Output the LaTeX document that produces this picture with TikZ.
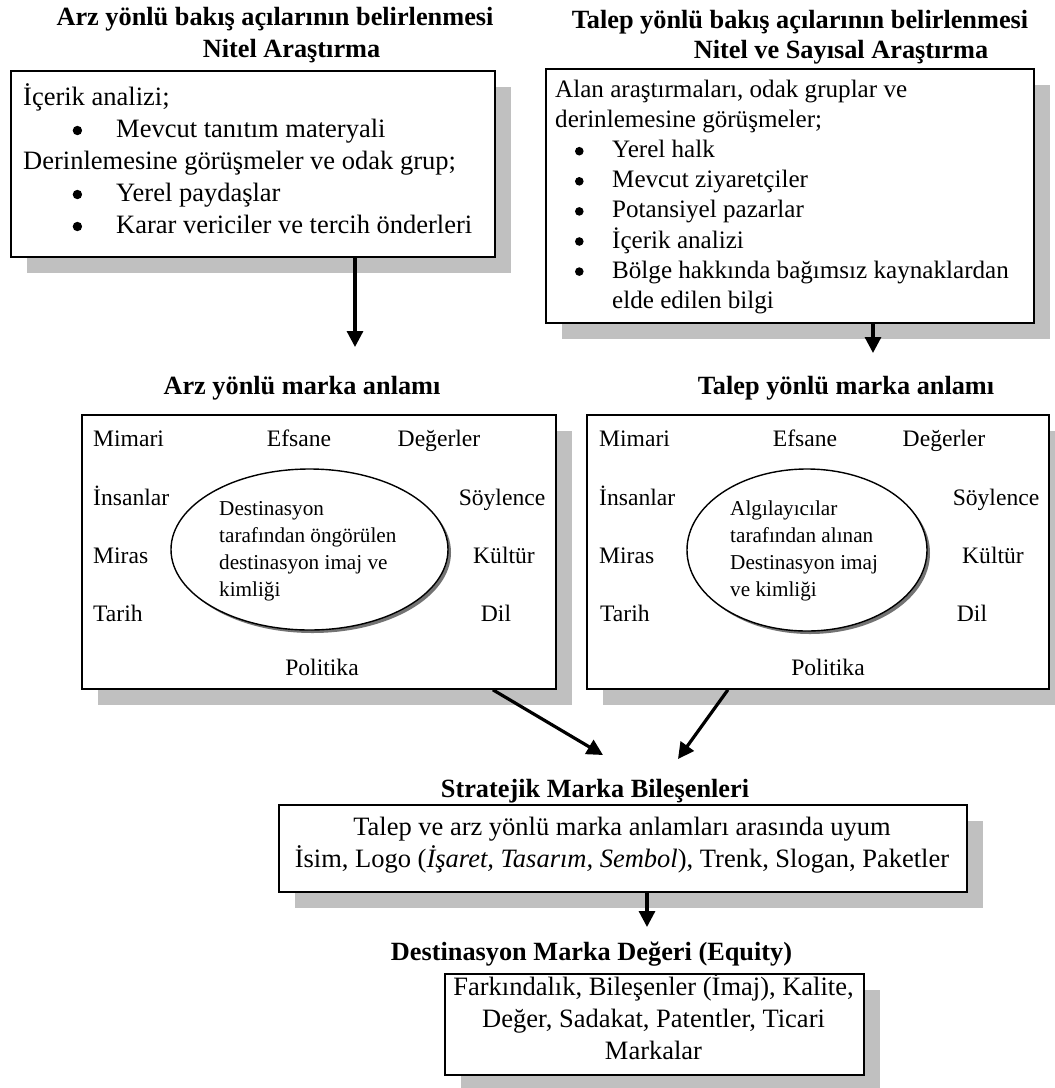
\documentclass[tikz,border=0pt]{standalone}
\usepackage{fontspec}
\setmainfont{Liberation Serif}
\usetikzlibrary{arrows.meta,shapes.geometric,shadows}
\definecolor{shadowgray}{RGB}{192,192,192}
% bullet in a fixed-width slot: #1 slot width, #2 indent of the dot, #3 dot radius
\newcommand{\blt}[3]{\makebox[#1][l]{\hspace*{#2}\tikz[baseline=-6.5pt]\fill (0,0) circle (#3);}}

\begin{document}
\begin{tikzpicture}[x=1pt,y=-1pt,
  frame/.style={draw=black,line width=1.8pt,fill=white,inner sep=0pt,anchor=north west,
    drop shadow={shadow xshift=16pt,shadow yshift=-16pt,fill=shadowgray,opacity=1}},
  oval/.style={ellipse,draw=black,line width=1.4pt,fill=white,inner sep=0pt,
    drop shadow={shadow xshift=3pt,shadow yshift=-3pt,fill=black!55,opacity=1}},
  head/.style={inner sep=0pt,anchor=base,font=\fontsize{26.3}{31}\selectfont\bfseries},
  body/.style={inner sep=0pt,font=\fontsize{26.5}{32}\selectfont},
  word/.style={inner sep=0pt,font=\fontsize{23.6}{28}\selectfont},
  wl/.style={word,anchor=base west},
  wc/.style={word,anchor=base},
  inner/.style={inner sep=0pt,anchor=base west,font=\fontsize{21.2}{27.2}\selectfont},
  flow/.style={line width=3.2pt,-{Triangle[length=16pt,width=16pt]}}]

\useasboundingbox (0,0) rectangle (1055,1088);

% ---------- titles ----------
\node[head] (h1a) at (275,25.5) {Arz yönlü bakış açılarının belirlenmesi};
\node[head] (h1b) at (291.5,57) {Nitel Araştırma};
\node[head] (h2a) at (800,28) {Talep yönlü bakış açılarının belirlenmesi};
\node[head] (h2b) at (841,58) {Nitel ve Sayısal Araştırma};
\node[head] (h3) at (302,394.5) {Arz yönlü marka anlamı};
\node[head] (h4) at (846,394.5) {Talep yönlü marka anlamı};
\node[head] (h5) at (595,797) {Stratejik Marka Bileşenleri};
\node[head] (h6) at (591.5,960.5) {Destinasyon Marka Değeri (Equity)};

% ---------- boxes ----------
\node[frame,minimum width=484pt,minimum height=186pt] (b1) at (10,70) {};
\node[frame,minimum width=488pt,minimum height=254pt] (b2) at (545,68) {};
\node[frame,minimum width=474pt,minimum height=274pt] (b3) at (81,414) {};
\node[frame,minimum width=462pt,minimum height=274pt] (b4) at (586,414) {};
\node[frame,minimum width=688pt,minimum height=87pt] (b5) at (278,804) {};
\node[frame,minimum width=419pt,minimum height=101pt] (b6) at (444,973) {};

% ---------- research methods ----------
\node[body,anchor=base west] (m1) at (23,105) {\begin{tabular}[t]{@{}l@{}}
İçerik analizi;\\
\blt{93pt}{49.5pt}{4.7pt}Mevcut tanıtım materyali\\
Derinlemesine görüşmeler ve odak grup;\\
\blt{93pt}{49.5pt}{4.7pt}Yerel paydaşlar\\
\blt{93pt}{49.5pt}{4.7pt}Karar vericiler ve tercih önderleri
\end{tabular}};

\begin{scope}
\clip (545,68) rectangle (1033,314);
\node[inner sep=0pt,anchor=base west,font=\fontsize{25.1}{30.1}\selectfont] (m2) at (555,97.5) {\begin{tabular}[t]{@{}l@{}}
Alan araştırmaları, odak gruplar ve\\
derinlemesine görüşmeler;\\
\blt{57pt}{19.8pt}{4.3pt}Yerel halk\\
\blt{57pt}{19.8pt}{4.3pt}Mevcut ziyaretçiler\\
\blt{57pt}{19.8pt}{4.3pt}Potansiyel pazarlar\\
\blt{57pt}{19.8pt}{4.3pt}İçerik analizi\\
\blt{57pt}{19.8pt}{4.3pt}Bölge hakkında bağımsız kaynaklardan\\
\hspace*{57pt}elde edilen bilgi
\end{tabular}};
\end{scope}

% ---------- brand meaning: supply side ----------
\node[oval,minimum width=277pt,minimum height=161pt] (e3) at (309.5,549.5) {};
\node[wl] (w31) at (93,446) {Mimari};
\node[wc] (w32) at (299,446) {Efsane};
\node[wc] (w33) at (439,446) {Değerler};
\node[wl] (w34) at (93,505) {İnsanlar};
\node[wc] (w35) at (502,505) {Söylence};
\node[wl] (w36) at (93,563) {Miras};
\node[wc] (w37) at (504,563) {Kültür};
\node[wl] (w38) at (93,621) {Tarih};
\node[wc] (w39) at (496,621) {Dil};
\node[wc] (w30) at (322,675) {Politika};
\node[inner] (i3) at (219,515) {\begin{tabular}[t]{@{}l@{}}
Destinasyon\\ tarafından öngörülen\\ destinasyon imaj ve\\ kimliği\end{tabular}};

% ---------- brand meaning: demand side ----------
\node[oval,minimum width=240pt,minimum height=162pt] (e4) at (807,550) {};
\node[wl] (w41) at (599,446) {Mimari};
\node[wc] (w42) at (805,446) {Efsane};
\node[wc] (w43) at (944,446) {Değerler};
\node[wl] (w44) at (599,505) {İnsanlar};
\node[wc] (w45) at (996,505) {Söylence};
\node[wl] (w46) at (599,563) {Miras};
\node[wc] (w47) at (993,563) {Kültür};
\node[wl] (w48) at (600,621) {Tarih};
\node[wc] (w49) at (972,621) {Dil};
\node[wc] (w40) at (828,675) {Politika};
\node[inner] (i4) at (730,515) {\begin{tabular}[t]{@{}l@{}}
Algılayıcılar\\ tarafından alınan\\ Destinasyon imaj\\ ve kimliği\end{tabular}};

% ---------- strategic components and equity ----------
\node[body,anchor=base] (s5) at (622,835.5) {\begin{tabular}[t]{@{}c@{}}
Talep ve arz yönlü marka anlamları arasında uyum\\
İsim, Logo (\textit{İşaret, Tasarım, Sembol}), Trenk, Slogan, Paketler
\end{tabular}};
\node[body,anchor=base] (s6) at (653.5,995.5) {\begin{tabular}[t]{@{}c@{}}
Farkındalık, Bileşenler (İmaj), Kalite,\\
Değer, Sadakat, Patentler, Ticari\\
Markalar
\end{tabular}};

% ---------- connectors ----------
\coordinate (a1) at (355,347);
\coordinate (a2) at (873,353);
\coordinate (a3) at (603,755);
\coordinate (a4) at (678,759);
\coordinate (a5) at (647,927);
\draw[flow] (b1.south -| a1) -- (a1);
\draw[flow] (b2.south -| a2) -- (a2);
\draw[flow] ([xshift=174pt]b3.south) -- (a3);
\draw[flow] ([xshift=-90pt]b4.south) -- (a4);
\draw[flow] (b5.south -| a5) -- (a5);
\end{tikzpicture}
\end{document}
